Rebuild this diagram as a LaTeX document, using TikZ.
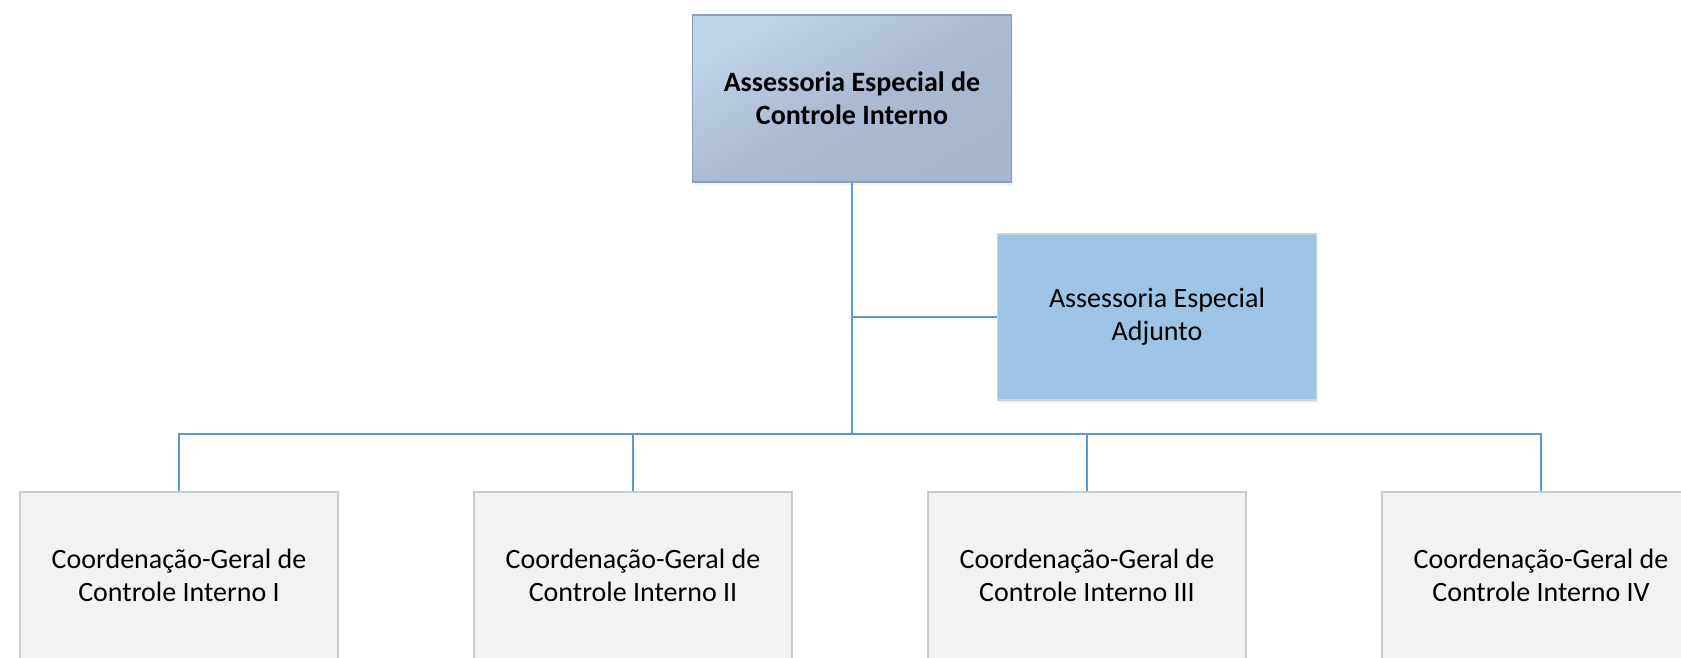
\documentclass[tikz,border=0pt]{standalone}
\usepackage{fontspec}
\setmainfont{Carlito}
\usetikzlibrary{shadows}
\definecolor{linec}{HTML}{5B9BD5}
\definecolor{topA}{HTML}{C0D4EB}
\definecolor{topB}{HTML}{A6B6CE}
\definecolor{topedge}{HTML}{8E9EB6}
\definecolor{adjfill}{HTML}{9DC3E6}
\definecolor{adjedge}{HTML}{C9D3DD}
\definecolor{subfill}{HTML}{F2F2F2}
\definecolor{subedge}{HTML}{C8CCD0}
\tikzset{
  boxbase/.style={rectangle, align=center, inner sep=0pt,
    font=\fontsize{28}{33}\selectfont,
    drop shadow={opacity=0.12, shadow xshift=1pt, shadow yshift=-3pt}},
  headbox/.style={boxbase, draw=topedge, line width=1.5pt,
    top color=topA, bottom color=topB, middle color=topB!85!topA, shading angle=30,
    minimum width=319pt, minimum height=167pt, font=\fontsize{28}{33}\selectfont\bfseries},
  adjbox/.style={boxbase, draw=adjedge, line width=1.2pt, fill=adjfill,
    minimum width=319pt, minimum height=166pt},
  subbox/.style={boxbase, draw=subedge, line width=1.2pt, fill=subfill,
    minimum width=318pt, minimum height=167pt},
  conn/.style={draw=linec, line width=2.4pt}
}
\begin{document}
\begin{tikzpicture}[x=1pt,y=-1pt]
\useasboundingbox[fill=white] (0,0) rectangle (1681,657);
\node[headbox] (top) at (852,98.5) {Assessoria Especial de\\Controle Interno};
\node[adjbox] (adj) at (1157,317) {Assessoria Especial\\Adjunto};
\node[subbox] (c1) at (179,575.5) {Coordenação-Geral de\\Controle Interno I};
\node[subbox] (c2) at (633,575.5) {Coordenação-Geral de\\Controle Interno II};
\node[subbox] (c3) at (1087,575.5) {Coordenação-Geral de\\Controle Interno III};
\node[subbox] (c4) at (1541,575.5) {Coordenação-Geral de\\Controle Interno IV};
\coordinate (bus) at (852,434);
\draw[conn] (top.south) -- (bus);
\draw[conn] (top.south |- adj.west) -- (adj.west);
\draw[conn] (c1.north) |- (bus) -| (c4.north);
\draw[conn] (c2.north) -- (c2.north |- bus);
\draw[conn] (c3.north) -- (c3.north |- bus);
\end{tikzpicture}
\end{document}
